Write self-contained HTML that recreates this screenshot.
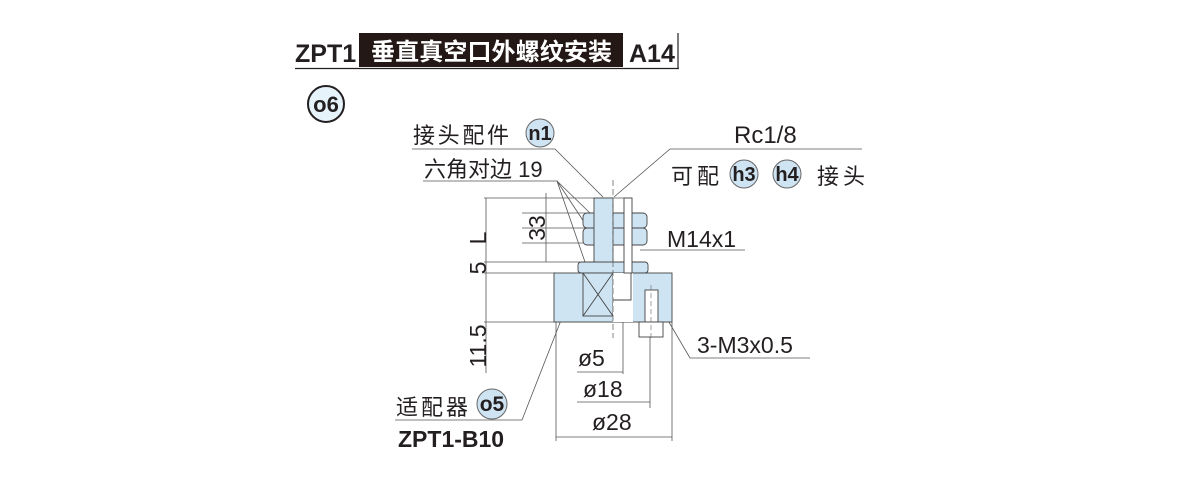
<!DOCTYPE html>
<html><head><meta charset="utf-8"><style>
html,body{margin:0;padding:0;background:#fff;}
svg{display:block;}
text{font-family:"Liberation Sans","Noto Sans CJK SC",sans-serif;fill:#231f20;}
</style></head><body>
<svg width="1200" height="500" viewBox="0 0 1200 500" xmlns="http://www.w3.org/2000/svg">
<text x="295" y="62" font-size="25" font-weight="bold">ZPT1</text>
<rect x="359" y="33" width="264" height="34" fill="#231816"/>
<text x="371" y="60" font-size="24" font-weight="bold" style="fill:#fff" textLength="241">垂直真空口外螺纹安装</text>
<text x="629" y="62" font-size="25" font-weight="bold">A14</text>
<line x1="678" y1="33" x2="678" y2="69" stroke="#231f20" stroke-width="1.2"/>
<line x1="295" y1="68.5" x2="679" y2="68.5" stroke="#231f20" stroke-width="1.2"/>
<circle cx="326" cy="104" r="18" fill="#e6f3fb" stroke="#231f20" stroke-width="2"/>
<text x="326" y="112" font-size="22" font-weight="bold" text-anchor="middle">o6</text>

<g stroke="#555" stroke-width="0.8" fill="none">
<line x1="484" y1="198" x2="632" y2="198"/>
<line x1="522" y1="213" x2="600" y2="213"/>
<line x1="522" y1="228" x2="600" y2="228"/>
<line x1="522" y1="243" x2="600" y2="243"/>
<line x1="484" y1="262" x2="580" y2="262"/>
<line x1="484" y1="273" x2="556" y2="273"/>
<line x1="484" y1="322" x2="672" y2="322"/>
<line x1="486" y1="198" x2="486" y2="373"/>
<line x1="546" y1="193" x2="546" y2="262"/>
<line x1="577" y1="372" x2="623" y2="372"/>
<line x1="623" y1="300" x2="623" y2="374"/>
<line x1="577" y1="402" x2="650" y2="402"/>
<line x1="650" y1="337" x2="650" y2="408"/>
<line x1="556" y1="437" x2="672" y2="437"/>
<line x1="556" y1="322" x2="556" y2="441"/>
<line x1="672" y1="322" x2="672" y2="441"/>
<polyline points="412,149 555,149 603,197"/>
<polyline points="423,181 557,181 590,213"/>
<line x1="557" y1="181" x2="588" y2="228"/>
<line x1="557" y1="181" x2="585" y2="262"/>
<polyline points="862,149 670,149 614,197"/>
<line x1="640" y1="250" x2="745" y2="250"/>
<polyline points="810,358 690,358 656,300"/>
<polyline points="395,420 522,420 565,310"/>
</g>

<g stroke="#444" stroke-width="0.9">
<rect x="554" y="273" width="118" height="49" fill="#cfe4f3"/>
<rect x="578" y="262" width="70" height="11" rx="3" fill="#cfe4f3"/>
<rect x="583" y="213" width="64" height="15" rx="4" fill="#cfe4f3"/>
<rect x="583" y="228" width="64" height="17" rx="4" fill="#cfe4f3"/>
<rect x="594" y="198" width="19" height="64" fill="#cfe4f3"/>
<rect x="583" y="273" width="30" height="43" fill="#cfe4f3"/>
<line x1="583" y1="273" x2="613" y2="316"/>
<line x1="613" y1="273" x2="583" y2="316"/>
<rect x="613" y="273" width="20" height="49" fill="#fff" stroke="none"/>
<polyline points="613,300 631,300 631,273" fill="none"/>
<rect x="624" y="198" width="8" height="75" fill="#fff"/>
<rect x="645" y="290" width="13" height="32" fill="#fff"/>
<rect x="639" y="322" width="24" height="15" fill="#fff"/>
</g>
<line x1="613" y1="180" x2="613" y2="338" stroke="#666" stroke-width="0.8" stroke-dasharray="6,3"/>
<line x1="651" y1="285" x2="651" y2="340" stroke="#666" stroke-width="0.6" stroke-dasharray="5,3"/>

<text x="413" y="143" font-size="22" textLength="96">接头配件</text>
<circle cx="540" cy="133" r="14" fill="#cfe4f3" stroke="#666"/>
<text x="540" y="140" font-size="20" font-weight="bold" text-anchor="middle">n1</text>
<text x="424" y="177" font-size="22">六角对边 19</text>
<text x="734" y="143" font-size="24">Rc1/8</text>
<text x="671" y="184" font-size="22" textLength="48">可配</text>
<circle cx="744" cy="174" r="14" fill="#cfe4f3" stroke="#666"/>
<text x="744" y="181" font-size="20" font-weight="bold" text-anchor="middle">h3</text>
<circle cx="787" cy="174" r="14" fill="#cfe4f3" stroke="#666"/>
<text x="787" y="181" font-size="20" font-weight="bold" text-anchor="middle">h4</text>
<text x="817" y="184" font-size="22" textLength="48">接头</text>
<text x="667" y="247" font-size="23">M14x1</text>
<text x="697" y="353" font-size="23">3-M3x0.5</text>
<text x="396" y="415" font-size="22" textLength="72">适配器</text>
<circle cx="492" cy="404" r="15" fill="#cfe4f3" stroke="#666"/>
<text x="492" y="411" font-size="21" font-weight="bold" text-anchor="middle">o5</text>
<text x="398" y="447" font-size="23" font-weight="bold">ZPT1-B10</text>
<text x="578" y="366" font-size="23">ø5</text>
<text x="583" y="397" font-size="23">ø18</text>
<text x="592" y="430" font-size="23">ø28</text>
<text transform="translate(486,238) rotate(-90)" font-size="23" text-anchor="middle">L</text>
<text transform="translate(545,228) rotate(-90)" font-size="23" text-anchor="middle">33</text>
<text transform="translate(486,268) rotate(-90)" font-size="23" text-anchor="middle">5</text>
<text transform="translate(486,346) rotate(-90)" font-size="23" text-anchor="middle">11.5</text>
</svg>
</body></html>
